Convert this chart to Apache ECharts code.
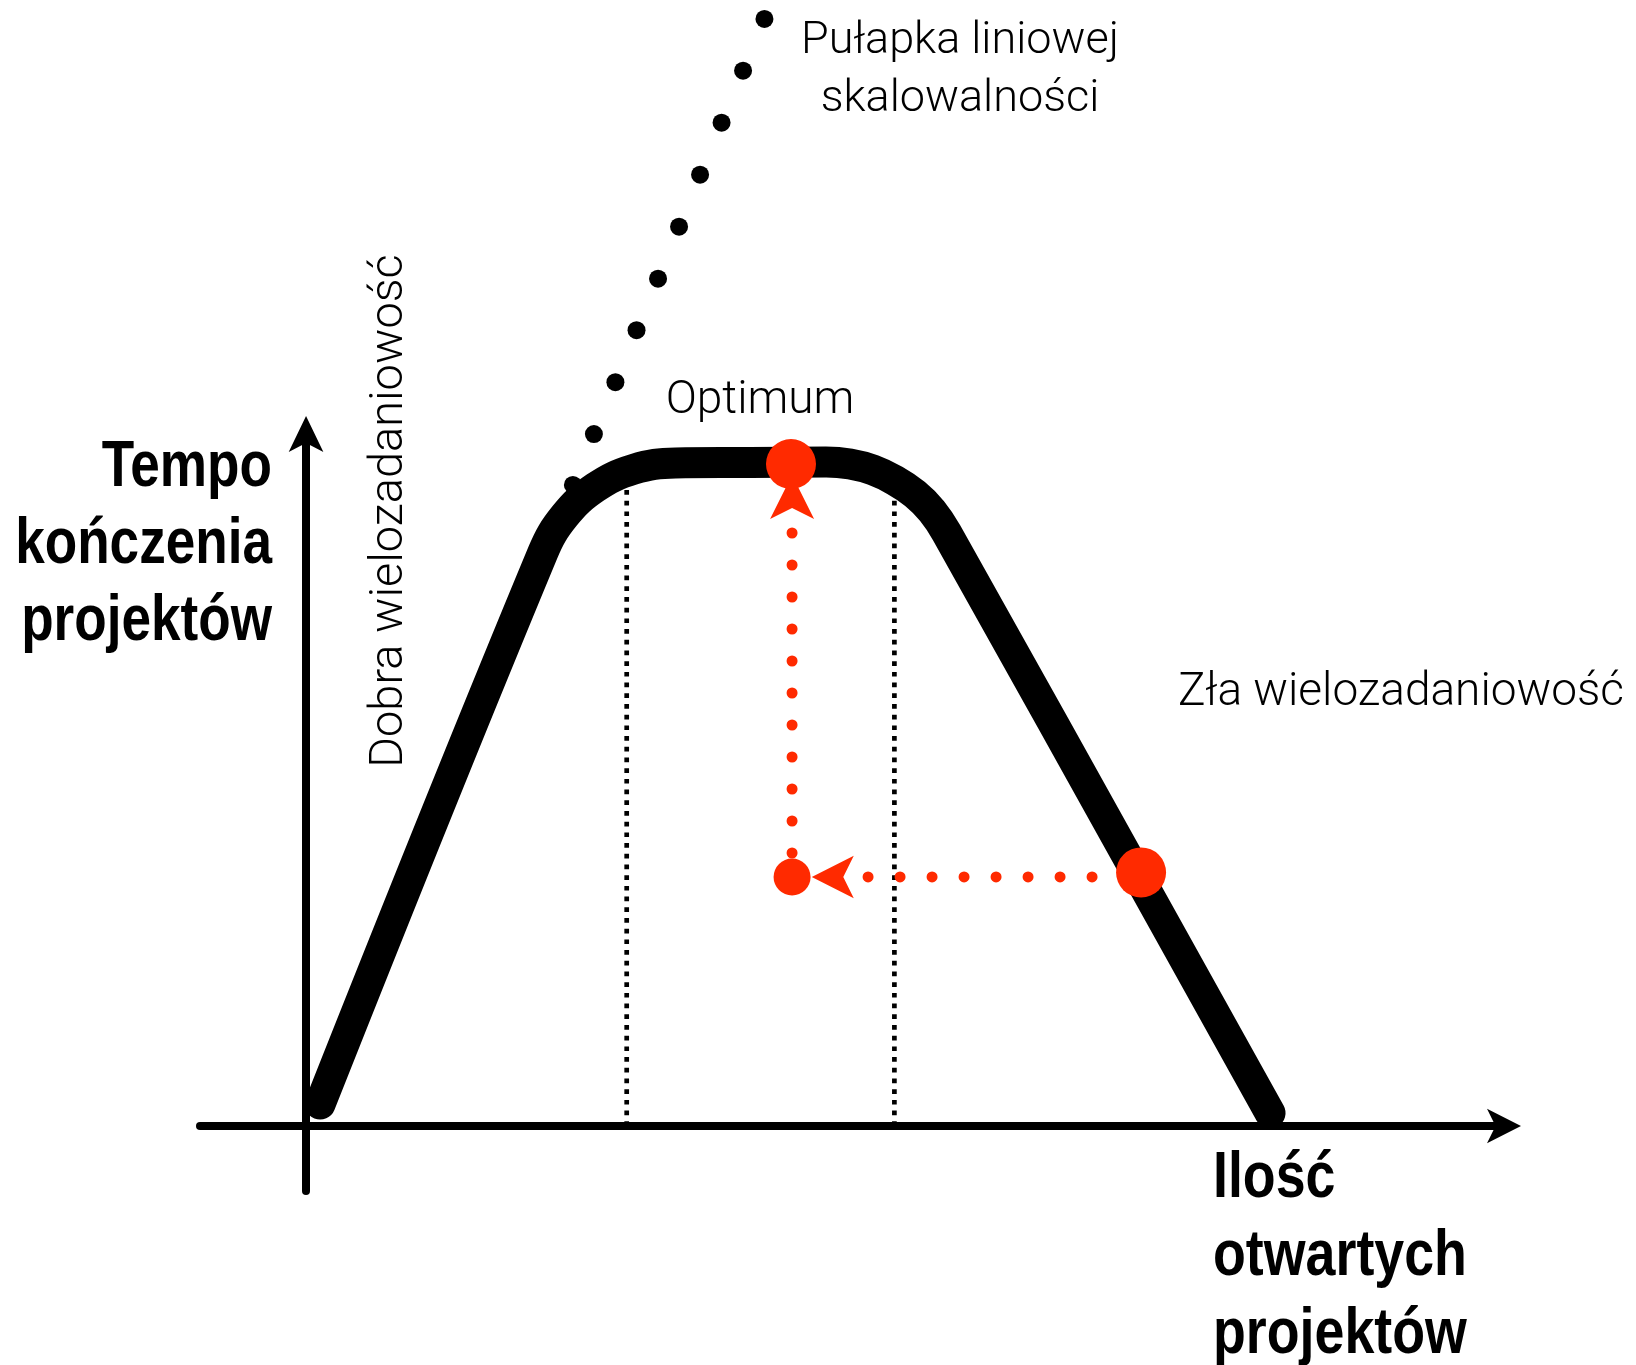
<!DOCTYPE html>
<html>
<head>
<meta charset="utf-8">
<script src="https://cdn.jsdelivr.net/npm/echarts@6/dist/echarts.min.js"></script>
<style>
  html, body { margin: 0; padding: 0; background: #fff; }
  #chart { width: 1636px; height: 1365px; }
</style>
</head>
<body>
<div id="chart"></div>
<script>
// 主曲线：上升、平台、下降
const curve = [
  [1.17, 1.9], [19.72, 49.51], [21.52, 52.66], [24.1, 55.13], [27.29, 56.7],
  [30.77, 57.24], [36.97, 57.28], [43.3, 57.33], [45.3, 57.15], [47.21, 56.63],
  [49.04, 55.73], [50.71, 54.56], [52.12, 53.1], [53.33, 51.23], [80.27, 1.12]
];
// 线性扩展的陷阱（黑点）
const trapDots = [
  [22.22, 55.34], [23.97, 59.74], [25.76, 64.21], [27.52, 68.7], [29.31, 73.15],
  [31.06, 77.64], [32.81, 82.13], [34.6, 86.62], [36.39, 91.11], [38.17, 95.57]
];
// 平台两端的虚线
const guideLeft = [[26.7, 0], [26.7, 54.9]];
const guideRight = [[48.99, 0], [48.99, 54.5]];
// 红色标记：最优点、投影点、右侧点
const optimumDot = [[40.38, 57.15]];
const projectedDot = [[40.47, 21.5]];
const badDot = [[69.53, 21.89]];
const redPathH = [[65.45, 21.5], [46.79, 21.5]];
const redPathV = [[40.47, 23.57], [40.47, 51.2]];
// 箭头尖端位置
const arrowUp = [[40.47, 56.2]];
const arrowLeft = [[42.11, 21.5]];

const RED = "#ff2a00";
const chart = echarts.init(document.getElementById("chart"));

const lightFont = { fontFamily: "Roboto, 'Liberation Sans', sans-serif", fontWeight: 300, fill: "#000" };
const boldFont = { fontFamily: "'Liberation Sans', Arial, sans-serif", fontWeight: "bold", fill: "#000" };

const dotStyle = (color) => ({ color: color, opacity: 1 });

const option = {
  animation: false,
  backgroundColor: "#fff",
  grid: { left: 200, right: 129, top: 431, bottom: 174 },
  xAxis: {
    type: "value",
    min: -8.83,
    max: 100,
    axisLine: {
      onZero: true,
      symbol: ["none", "arrow"],
      symbolSize: [26, 34],
      symbolOffset: [0, 14],
      lineStyle: { color: "#000", width: 8 },
    },
    axisTick: { show: false },
    axisLabel: { show: false },
    splitLine: { show: false },
  },
  yAxis: {
    type: "value",
    min: -5.61,
    max: 60,
    axisLine: {
      show: true,
      onZero: true,
      symbol: ["none", "arrow"],
      symbolSize: [26, 36],
      symbolOffset: [0, 15],
      lineStyle: { color: "#000", width: 8 },
    },
    axisTick: { show: false },
    axisLabel: { show: false },
    splitLine: { show: false },
  },
  series: [
    {
      type: "line",
      z: 2,
      data: guideLeft,
      symbol: "none",
      silent: true,
      lineStyle: { color: "#000", width: 4.7, type: [4.7, 6] },
    },
    {
      type: "line",
      z: 2,
      data: guideRight,
      symbol: "none",
      silent: true,
      lineStyle: { color: "#000", width: 4.7, type: [4.7, 6] },
    },
    {
      type: "line",
      z: 3,
      data: curve,
      symbol: "none",
      smooth: 0.4,
      silent: true,
      clip: false,
      lineStyle: { color: "#000", width: 31, cap: "round", join: "round" },
    },
    {
      type: "scatter",
      z: 4,
      data: trapDots,
      symbolSize: 18,
      clip: false,
      silent: true,
      itemStyle: dotStyle("#000"),
    },
    {
      type: "line",
      z: 5,
      data: redPathV,
      symbol: "none",
      silent: true,
      lineStyle: { color: RED, width: 11, type: [0, 32], cap: "round" },
    },
    {
      type: "line",
      z: 5,
      data: redPathH,
      symbol: "none",
      silent: true,
      lineStyle: { color: RED, width: 11, type: [0, 32], cap: "round" },
    },
    {
      type: "scatter",
      z: 6,
      data: arrowUp,
      symbol: "arrow",
      symbolSize: [33, 44],
      silent: true,
      itemStyle: dotStyle(RED),
    },
    {
      type: "scatter",
      z: 6,
      data: arrowLeft,
      symbol: "arrow",
      symbolSize: [32, 42],
      symbolRotate: 90,
      silent: true,
      itemStyle: dotStyle(RED),
    },
    {
      type: "scatter",
      z: 7,
      data: optimumDot,
      symbolSize: 50,
      silent: true,
      itemStyle: dotStyle(RED),
    },
    {
      type: "scatter",
      z: 7,
      data: projectedDot,
      symbolSize: 37,
      silent: true,
      itemStyle: dotStyle(RED),
    },
    {
      type: "scatter",
      z: 7,
      data: badDot,
      symbolSize: 50,
      silent: true,
      itemStyle: dotStyle(RED),
    },
  ],
  graphic: [
    {
      type: "text", x: 272, y: 545, scaleX: 0.83,
      style: Object.assign({ text: "Tempo\nkończenia\nprojektów", fontSize: 64, lineHeight: 77, align: "right", verticalAlign: "middle" }, boldFont),
    },
    {
      type: "text", x: 1213, y: 1257, scaleX: 0.84,
      style: Object.assign({ text: "Ilość\notwartych\nprojektów", fontSize: 64, lineHeight: 78, align: "left", verticalAlign: "middle" }, boldFont),
    },
    {
      type: "text", x: 760, y: 401,
      style: Object.assign({ text: "Optimum", fontSize: 46, align: "center", verticalAlign: "middle" }, lightFont),
    },
    {
      type: "text", x: 960, y: 71,
      style: Object.assign({ text: "Pułapka liniowej\nskalowalności", fontSize: 45, lineHeight: 58, align: "center", verticalAlign: "middle" }, lightFont),
    },
    {
      type: "text", x: 1401, y: 693,
      style: Object.assign({ text: "Zła wielozadaniowość", fontSize: 46, align: "center", verticalAlign: "middle" }, lightFont),
    },
    {
      type: "text", x: 390, y: 511, rotation: Math.PI / 2,
      style: Object.assign({ text: "Dobra wielozadaniowość", fontSize: 47, align: "center", verticalAlign: "middle" }, lightFont),
    },
  ],
};

chart.setOption(option);
window.addEventListener("resize", chart.resize);
</script>
</body>
</html>
